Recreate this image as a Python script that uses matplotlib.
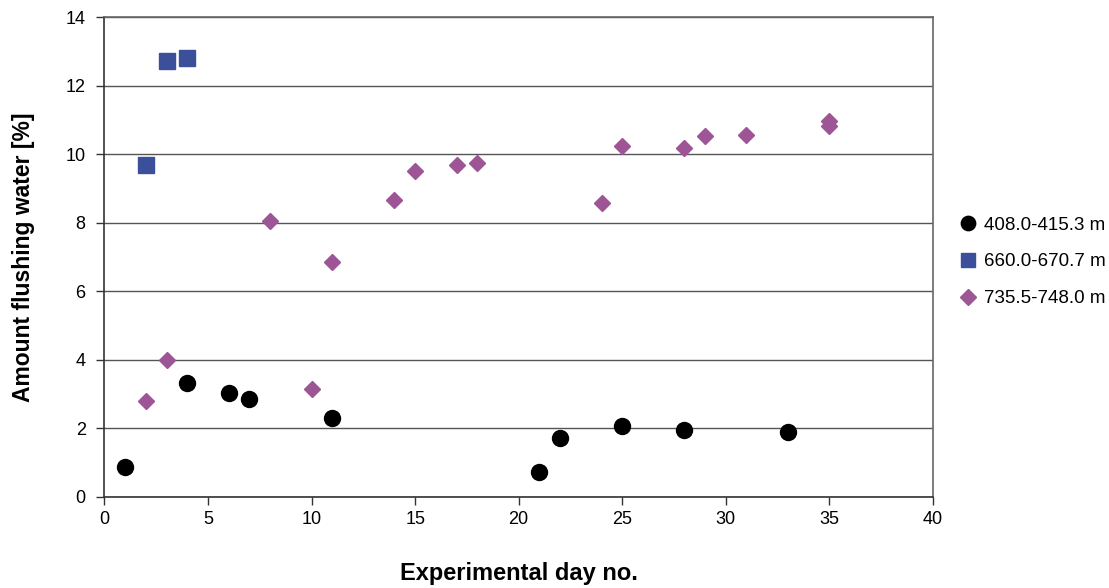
import matplotlib
matplotlib.use("Agg")
import matplotlib.pyplot as plt

plt.rcParams['font.family'] = ['Liberation Sans', 'DejaVu Sans']

# Data
day_408 = [1, 4, 6, 7, 11, 21, 22, 25, 28, 33]
val_408 = [0.87, 3.31, 3.02, 2.85, 2.31, 0.73, 1.72, 2.06, 1.95, 1.90]

day_660 = [2, 3, 4]
val_660 = [9.67, 12.71, 12.81]

day_735 = [2, 3, 8, 10, 11, 14, 15, 17, 18, 24, 25, 28, 29, 31, 35, 35]
val_735 = [2.80, 3.99, 8.04, 3.14, 6.84, 8.65, 9.51, 9.67, 9.75, 8.57, 10.24,
           10.18, 10.52, 10.57, 10.98, 10.81]

labels = ["408.0-415.3 m", "660.0-670.7 m", "735.5-748.0 m"]
xticks = [0, 5, 10, 15, 20, 25, 30, 35, 40]
yticks = [0, 2, 4, 6, 8, 10, 12, 14]

fig = plt.figure(figsize=(11.09, 5.88), dpi=100)
ax = fig.add_axes([0.0942, 0.155, 0.747, 0.816])

ax.plot(day_408, val_408, 'o', color='black', markersize=11.5, label=labels[0], zorder=3)
ax.plot(day_660, val_660, 's', color='#3B4F9A', markersize=11, label=labels[1], zorder=3)
ax.plot(day_735, val_735, 'D', color='#9E5596', markersize=8.5, label=labels[2], zorder=3)

ax.set_xlim(0, 40)
ax.set_ylim(0, 14)
ax.set_xticks(xticks)
ax.set_yticks(yticks)
ax.tick_params(axis='both', direction='out', length=5.5, labelsize=13, colors='#333333',
               labelcolor='black', width=1)
ax.tick_params(axis='y', pad=8)
ax.tick_params(axis='x', pad=5)
ax.yaxis.grid(True, color='#555555', linewidth=1)
ax.set_axisbelow(True)

for side in ['top', 'right']:
    ax.spines[side].set_color('#666666')
    ax.spines[side].set_linewidth(1.2)
for side in ['left', 'bottom']:
    ax.spines[side].set_color('#333333')
    ax.spines[side].set_linewidth(1.2)

ax.set_xlabel("Experimental day no.", fontsize=17, fontweight='bold', labelpad=24)
ax.set_ylabel("Amount flushing water [%]", fontsize=16.5, fontweight='bold', labelpad=22)

leg = ax.legend(loc='center left', bbox_to_anchor=(1.008, 0.49), frameon=False,
                fontsize=13.5, handletextpad=0.25, labelspacing=1.05, handlelength=1.2,
                markerscale=0.9)

fig.savefig("out.png", dpi=100)
